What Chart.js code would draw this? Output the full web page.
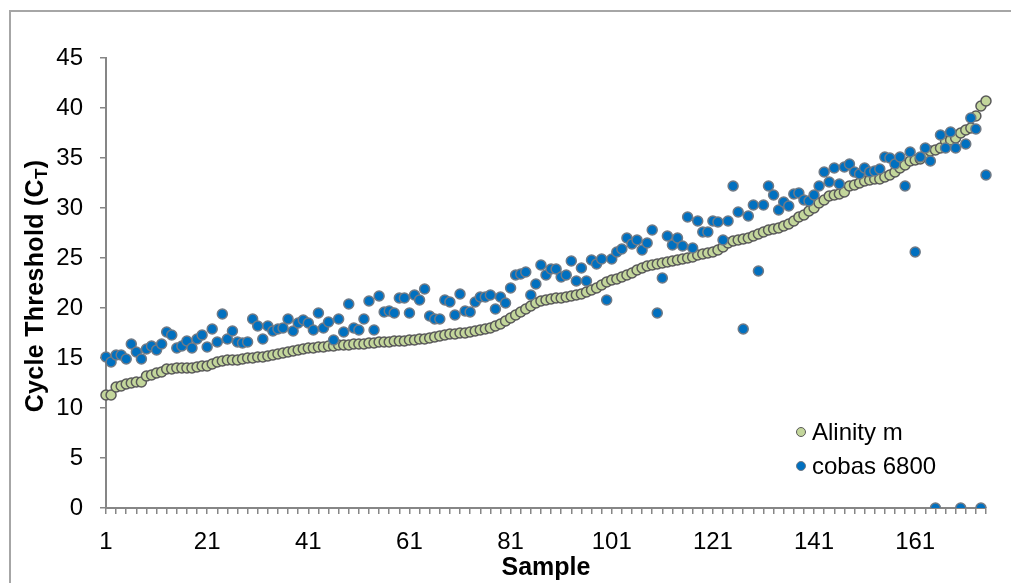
<!DOCTYPE html>
<html lang="en">
<head>
  <meta charset="UTF-8">
  <title>Cycle Threshold by Sample</title>
  <script src="https://cdn.jsdelivr.net/npm/chart.js"></script>
  <style>
    html, body { margin: 0; padding: 0; background: #fff; overflow: hidden; }
    body { font-family: "Liberation Sans", Arial, sans-serif; }
    #wrap { position: relative; width: 1011px; height: 583px; }
    #frame { position: absolute; left: 9px; top: 10px; width: 1100px; height: 700px; border: 2px solid #a6a6a6; box-sizing: border-box; }
    #ytitle { position: absolute; left: 34px; top: 286px; transform: translate(-50%, -50%) rotate(-90deg);
      white-space: nowrap; font-weight: bold; font-size: 25px; letter-spacing: 0.3px; color: #000; }
    #ytitle sub { font-size: 17px; vertical-align: -4px; line-height: 0; }
    #legend { position: absolute; left: 796px; top: 417px; font-size: 24px; color: #000; }
    #legend div { height: 34px; line-height: 30px; white-space: nowrap; }
    #legend span.m { display: inline-block; width: 8px; height: 8px; border-radius: 50%; border: 1.5px solid #595959;
      margin-right: 6px; vertical-align: 3px; }
  </style>
</head>
<body>
<div id="wrap">
  <div id="frame"></div>
  <canvas id="ctChart"></canvas>
  <div id="ytitle">Cycle Threshold (C<sub>T</sub>)</div>
  <div id="legend">
    <div><span class="m" style="background:#c3d69b"></span>Alinity m</div>
    <div><span class="m" style="background:#0070c0;border-color:#6f7a86"></span>cobas 6800</div>
  </div>
</div>

<script>
  // sample numbers 1..175 (categories)
  const samples = Array.from({ length: 175 }, (_, i) => String(i + 1));
  const tickLabels = ['1', '21', '41', '61', '81', '101', '121', '141', '161'];

  const alinity = [
    11.3, 11.3, 12.1, 12.2, 12.4, 12.5, 12.6, 12.6, 13.2, 13.3,
    13.5, 13.6, 13.9, 13.9, 14.0, 14.0, 14.0, 14.0, 14.1, 14.2,
    14.2, 14.4, 14.6, 14.7, 14.8, 14.8, 14.8, 14.9, 15.0, 15.0,
    15.1, 15.1, 15.2, 15.3, 15.4, 15.5, 15.6, 15.7, 15.8, 15.9,
    16.0, 16.0, 16.1, 16.1, 16.2, 16.2, 16.3, 16.3, 16.3, 16.4,
    16.4, 16.4, 16.5, 16.5, 16.6, 16.6, 16.6, 16.7, 16.7, 16.7,
    16.8, 16.8, 16.9, 16.9, 17.0, 17.1, 17.2, 17.3, 17.4, 17.4,
    17.5, 17.5, 17.6, 17.7, 17.8, 17.9, 18.0, 18.2, 18.4, 18.7,
    19.0, 19.3, 19.6, 19.9, 20.2, 20.5, 20.7, 20.8, 20.9, 21.0,
    21.0, 21.1, 21.2, 21.3, 21.4, 21.6, 21.8, 22.0, 22.3, 22.6,
    22.8, 22.9, 23.1, 23.3, 23.5, 23.8, 24.0, 24.2, 24.3, 24.4,
    24.5, 24.6, 24.7, 24.8, 24.9, 25.0, 25.1, 25.3, 25.4, 25.5,
    25.6, 25.8, 26.1, 26.5, 26.7, 26.8, 26.9, 27.0, 27.2, 27.4,
    27.6, 27.8, 27.9, 28.0, 28.2, 28.4, 28.7, 29.1, 29.3, 29.7,
    30.0, 30.5, 30.8, 31.2, 31.3, 31.4, 31.6, 32.2, 32.3, 32.5,
    32.7, 32.8, 32.9, 32.9, 33.1, 33.3, 33.6, 34.0, 34.3, 34.7,
    34.8, 34.9, 35.3, 35.7, 35.8, 36.0, 36.7, 36.8, 37.0, 37.5,
    37.8, 38.0, 39.2, 40.2, 40.7
  ];

  const cobas = [
    15.1, 14.6, 15.3, 15.3, 14.9, 16.4, 15.6, 14.9, 15.9, 16.2,
    15.8, 16.4, 17.6, 17.3, 16.0, 16.2, 16.7, 16.0, 16.9, 17.3,
    16.1, 17.9, 16.6, 19.4, 16.9, 17.7, 16.6, 16.5, 16.6, 18.9,
    18.2, 16.9, 18.2, 17.7, 17.9, 18.0, 18.9, 17.7, 18.5, 18.8,
    18.5, 17.8, 19.5, 18.0, 18.6, 16.8, 18.9, 17.6, 20.4, 18.0,
    17.8, 18.9, 20.7, 17.8, 21.2, 19.6, 19.7, 19.5, 21.0, 21.0,
    19.5, 21.3, 20.8, 21.9, 19.2, 18.9, 18.9, 20.8, 20.6, 19.3,
    21.4, 19.7, 19.6, 20.6, 21.1, 21.1, 21.3, 19.9, 21.1, 20.5,
    22.0, 23.3, 23.4, 23.6, 21.3, 22.4, 24.3, 23.3, 23.9, 23.9,
    23.1, 23.3, 24.7, 22.7, 24.0, 22.7, 24.8, 24.4, 24.9, 20.8,
    24.9, 25.6, 25.9, 27.0, 26.4, 26.8, 25.8, 26.5, 27.8, 19.5,
    23.0, 27.2, 26.3, 27.0, 26.2, 29.1, 26.0, 28.7, 27.6, 27.6,
    28.7, 28.6, 26.8, 28.7, 32.2, 29.6, 17.9, 29.2, 30.3, 23.7,
    30.3, 32.2, 31.3, 29.8, 30.6, 30.2, 31.4, 31.5, 30.8, 30.7,
    31.3, 32.2, 33.6, 32.6, 34.0, 32.4, 34.1, 34.4, 33.6, 33.4,
    34.0, 33.6, 33.7, 33.9, 35.1, 35.0, 34.4, 35.1, 32.2, 35.6,
    25.6, 35.1, 36.0, 34.7, 0, 37.3, 36.0, 37.6, 36.0, 0,
    36.4, 39.0, 37.9, 0, 33.3
  ];

  const axisColor = '#868686';
  const font = { family: '"Liberation Sans", Arial, sans-serif', size: 24 };

  new Chart(document.getElementById('ctChart'), {
    type: 'line',
    data: {
      labels: samples,
      datasets: [
        {
          label: 'Alinity m',
          data: alinity,
          showLine: false,
          pointRadius: 5,
          pointBorderWidth: 1.5,
          pointBackgroundColor: '#c3d69b',
          pointBorderColor: '#595959',
          order: 2
        },
        {
          label: 'cobas 6800',
          data: cobas,
          showLine: false,
          pointRadius: 5,
          pointBorderWidth: 1.5,
          pointBackgroundColor: '#0070c0',
          pointBorderColor: '#6f7a86',
          order: 1
        }
      ]
    },
    options: {
      responsive: true,
      maintainAspectRatio: false,
      animation: false,
      events: [],
      layout: { padding: { top: 58, right: 25, left: 0, bottom: 0 } },
      plugins: {
        legend: { display: false },
        tooltip: { enabled: false }
      },
      scales: {
        x: {
          offset: false,
          grid: { drawOnChartArea: false, tickLength: 6, color: axisColor, lineWidth: 1.5 },
          border: { color: axisColor, width: 2 },
          ticks: {
            autoSkip: false,
            maxRotation: 0,
            padding: 14,
            color: '#000',
            font: font,
            callback: function (val, i) {
              const s = samples[i];
              if (tickLabels.includes(s)) return s;
              return i % 2 === 0 ? '' : null;
            }
          },
          title: {
            display: true,
            text: 'Sample',
            color: '#000',
            font: { family: font.family, size: 25, weight: 'bold' },
            padding: { top: 0, bottom: 0 }
          },
          afterFit: function (scale) { scale.height = 75; }
        },
        y: {
          min: 0,
          max: 45,
          grid: { drawOnChartArea: false, tickLength: 6, color: axisColor, lineWidth: 1.5 },
          border: { color: axisColor, width: 2 },
          ticks: { stepSize: 5, padding: 17, color: '#000', font: font },
          afterFit: function (scale) { scale.width = 106; }
        }
      }
    }
  });
</script>
</body>
</html>
